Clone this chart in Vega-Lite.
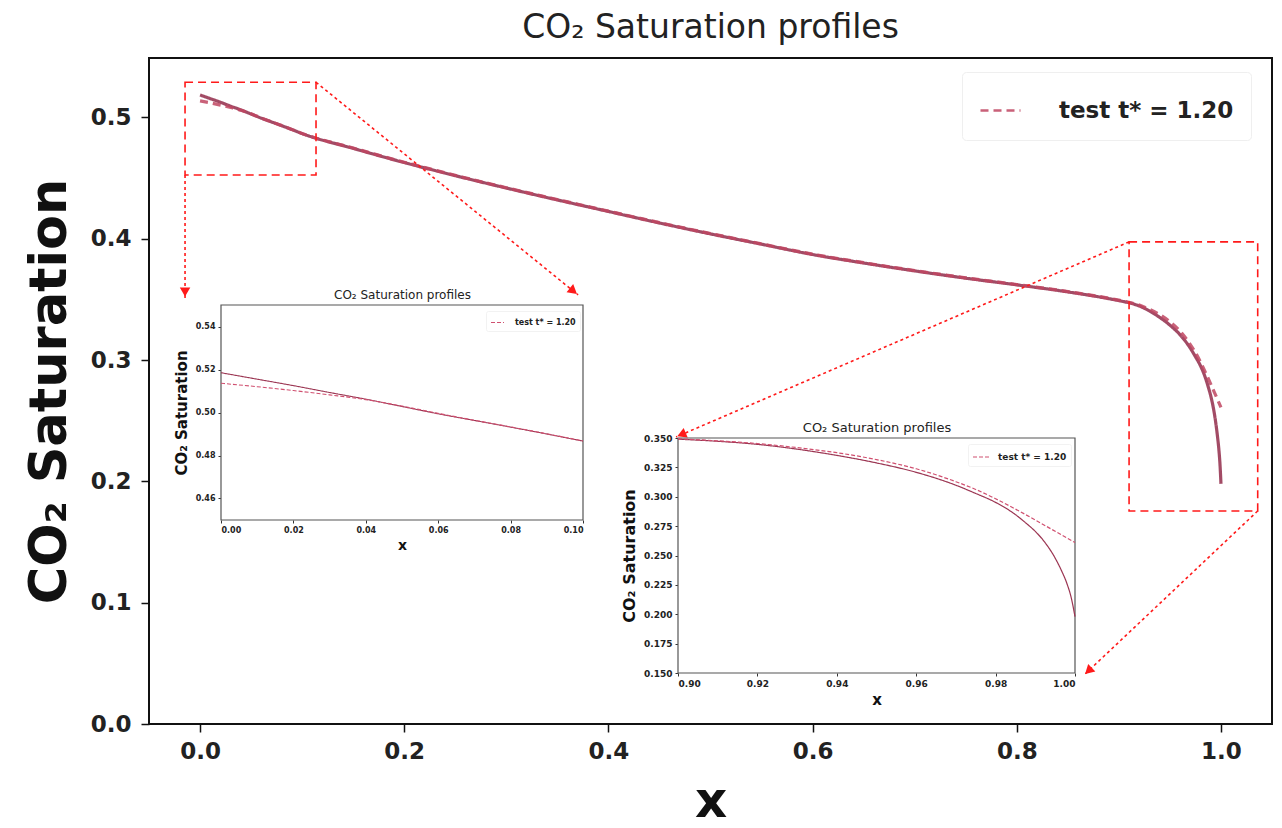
{
  "$schema": "https://vega.github.io/schema/vega-lite/v6.json",
  "width": 1123,
  "height": 666,
  "autosize": {"type": "none"},
  "padding": {"left": 149, "top": 58, "right": 10, "bottom": 104},
  "background": "white",
  "config": {
    "font": "DejaVu Sans",
    "view": {"stroke": "#111", "strokeWidth": 2},
    "axis": {"grid": false}
  },
  "title": {
    "text": "CO₂ Saturation profiles",
    "fontSize": 33,
    "fontWeight": "normal",
    "color": "#222",
    "anchor": "middle",
    "frame": "group",
    "baseline": "alphabetic",
    "offset": -13
  },
  "datasets": {
    "profiles": [
      {"x": 0, "s": 0.5185, "series": "reference"},
      {"x": 0.01, "s": 0.5155, "series": "reference"},
      {"x": 0.02, "s": 0.5125, "series": "reference"},
      {"x": 0.03, "s": 0.5093, "series": "reference"},
      {"x": 0.04, "s": 0.5062, "series": "reference"},
      {"x": 0.05, "s": 0.5028, "series": "reference"},
      {"x": 0.06, "s": 0.4994, "series": "reference"},
      {"x": 0.07, "s": 0.4963, "series": "reference"},
      {"x": 0.08, "s": 0.4932, "series": "reference"},
      {"x": 0.09, "s": 0.49, "series": "reference"},
      {"x": 0.1, "s": 0.4867, "series": "reference"},
      {"x": 0.15, "s": 0.4745, "series": "reference"},
      {"x": 0.2, "s": 0.4628, "series": "reference"},
      {"x": 0.25, "s": 0.452, "series": "reference"},
      {"x": 0.3, "s": 0.4418, "series": "reference"},
      {"x": 0.35, "s": 0.432, "series": "reference"},
      {"x": 0.4, "s": 0.4225, "series": "reference"},
      {"x": 0.45, "s": 0.413, "series": "reference"},
      {"x": 0.5, "s": 0.404, "series": "reference"},
      {"x": 0.55, "s": 0.3955, "series": "reference"},
      {"x": 0.6, "s": 0.387, "series": "reference"},
      {"x": 0.65, "s": 0.38, "series": "reference"},
      {"x": 0.7, "s": 0.3735, "series": "reference"},
      {"x": 0.75, "s": 0.3675, "series": "reference"},
      {"x": 0.8, "s": 0.362, "series": "reference"},
      {"x": 0.85, "s": 0.3562, "series": "reference"},
      {"x": 0.9, "s": 0.349, "series": "reference"},
      {"x": 0.91, "s": 0.3472, "series": "reference"},
      {"x": 0.92, "s": 0.3446, "series": "reference"},
      {"x": 0.93, "s": 0.3405, "series": "reference"},
      {"x": 0.94, "s": 0.3352, "series": "reference"},
      {"x": 0.95, "s": 0.3288, "series": "reference"},
      {"x": 0.96, "s": 0.3208, "series": "reference"},
      {"x": 0.97, "s": 0.3098, "series": "reference"},
      {"x": 0.975, "s": 0.3028, "series": "reference"},
      {"x": 0.98, "s": 0.2952, "series": "reference"},
      {"x": 0.985, "s": 0.2848, "series": "reference"},
      {"x": 0.9875, "s": 0.278, "series": "reference"},
      {"x": 0.99, "s": 0.2705, "series": "reference"},
      {"x": 0.9925, "s": 0.2608, "series": "reference"},
      {"x": 0.995, "s": 0.2478, "series": "reference"},
      {"x": 0.9965, "s": 0.2378, "series": "reference"},
      {"x": 0.998, "s": 0.2258, "series": "reference"},
      {"x": 0.999, "s": 0.2148, "series": "reference"},
      {"x": 1, "s": 0.198, "series": "reference"},
      {"x": 0, "s": 0.5136, "series": "test t* = 1.20"},
      {"x": 0.01, "s": 0.512, "series": "test t* = 1.20"},
      {"x": 0.02, "s": 0.5102, "series": "test t* = 1.20"},
      {"x": 0.03, "s": 0.5082, "series": "test t* = 1.20"},
      {"x": 0.04, "s": 0.506, "series": "test t* = 1.20"},
      {"x": 0.05, "s": 0.503, "series": "test t* = 1.20"},
      {"x": 0.06, "s": 0.4996, "series": "test t* = 1.20"},
      {"x": 0.07, "s": 0.4964, "series": "test t* = 1.20"},
      {"x": 0.08, "s": 0.4933, "series": "test t* = 1.20"},
      {"x": 0.09, "s": 0.4901, "series": "test t* = 1.20"},
      {"x": 0.1, "s": 0.4868, "series": "test t* = 1.20"},
      {"x": 0.15, "s": 0.4748, "series": "test t* = 1.20"},
      {"x": 0.2, "s": 0.4631, "series": "test t* = 1.20"},
      {"x": 0.25, "s": 0.4523, "series": "test t* = 1.20"},
      {"x": 0.3, "s": 0.4421, "series": "test t* = 1.20"},
      {"x": 0.35, "s": 0.4323, "series": "test t* = 1.20"},
      {"x": 0.4, "s": 0.4228, "series": "test t* = 1.20"},
      {"x": 0.45, "s": 0.4133, "series": "test t* = 1.20"},
      {"x": 0.5, "s": 0.4043, "series": "test t* = 1.20"},
      {"x": 0.55, "s": 0.3958, "series": "test t* = 1.20"},
      {"x": 0.6, "s": 0.3873, "series": "test t* = 1.20"},
      {"x": 0.65, "s": 0.3803, "series": "test t* = 1.20"},
      {"x": 0.7, "s": 0.3738, "series": "test t* = 1.20"},
      {"x": 0.75, "s": 0.3678, "series": "test t* = 1.20"},
      {"x": 0.8, "s": 0.3623, "series": "test t* = 1.20"},
      {"x": 0.85, "s": 0.3565, "series": "test t* = 1.20"},
      {"x": 0.9, "s": 0.3494, "series": "test t* = 1.20"},
      {"x": 0.91, "s": 0.3476, "series": "test t* = 1.20"},
      {"x": 0.92, "s": 0.3453, "series": "test t* = 1.20"},
      {"x": 0.93, "s": 0.3418, "series": "test t* = 1.20"},
      {"x": 0.94, "s": 0.3375, "series": "test t* = 1.20"},
      {"x": 0.95, "s": 0.3316, "series": "test t* = 1.20"},
      {"x": 0.96, "s": 0.3238, "series": "test t* = 1.20"},
      {"x": 0.97, "s": 0.3128, "series": "test t* = 1.20"},
      {"x": 0.975, "s": 0.3062, "series": "test t* = 1.20"},
      {"x": 0.98, "s": 0.2983, "series": "test t* = 1.20"},
      {"x": 0.985, "s": 0.2895, "series": "test t* = 1.20"},
      {"x": 0.99, "s": 0.2802, "series": "test t* = 1.20"},
      {"x": 0.995, "s": 0.2706, "series": "test t* = 1.20"},
      {"x": 1, "s": 0.261, "series": "test t* = 1.20"}
    ],
    "boxes": [
      {"box": 1, "x0": -0.0147, "x1": 0.1136, "y0": 0.4526, "y1": 0.529},
      {"box": 2, "x0": 0.91, "x1": 1.036, "y0": 0.1756, "y1": 0.3974}
    ],
    "arrows": [
      {"arrow": 1, "x0": -0.0147, "y0": 0.4526, "x1": -0.0147, "y1": 0.3495, "hx": -0.0147, "hy": 0.3561},
      {"arrow": 2, "x0": 0.1136, "y0": 0.529, "x1": 0.3703, "y1": 0.3537, "hx": 0.3657, "hy": 0.3569},
      {"arrow": 3, "x0": 0.91, "y0": 0.3974, "x1": 0.4663, "y1": 0.2366, "hx": 0.4716, "hy": 0.2386},
      {"arrow": 4, "x0": 1.036, "y0": 0.1756, "x1": 0.8659, "y1": 0.0404, "hx": 0.8702, "hy": 0.0438}
    ],
    "frame1": [{"x0": 0, "x1": 0.1, "y0": 0.45, "y1": 0.55}],
    "frame2": [{"x0": 0.9, "x1": 1.0, "y0": 0.15, "y1": 0.35}]
  },
  "layer": [
    {
      "layer": [
        {
          "data": {"name": "profiles"},
          "mark": {"type": "line", "strokeWidth": 3.2, "opacity": 0.85, "interpolate": "monotone"},
          "encoding": {
            "x": {
              "field": "x", "type": "quantitative", "title": "x",
              "scale": {"domain": [-0.05, 1.05], "nice": false, "zero": false},
              "axis": {
                "orient": "bottom", "values": [0, 0.2, 0.4, 0.6, 0.8, 1.0], "format": ".1f",
                "domain": false, "tickSize": 8, "tickWidth": 1.5, "tickColor": "#111",
                "labelFontSize": 23, "labelFontWeight": "bold", "labelColor": "#222", "labelPadding": 8,
                "titleFontSize": 50, "titleFontWeight": "bold", "titleColor": "#111", "titlePadding": 13
              }
            },
            "y": {
              "field": "s", "type": "quantitative", "title": "CO₂ Saturation",
              "scale": {"domain": [0, 0.549], "nice": false, "zero": false},
              "axis": {
                "orient": "left", "values": [0, 0.1, 0.2, 0.3, 0.4, 0.5], "format": ".1f",
                "domain": false, "tickSize": 8, "tickWidth": 1.5, "tickColor": "#111",
                "labelFontSize": 23, "labelFontWeight": "bold", "labelColor": "#222", "labelPadding": 10,
                "titleFontSize": 51, "titleFontWeight": "bold", "titleColor": "#111", "titlePadding": 14
              }
            },
            "color": {
              "field": "series", "type": "nominal",
              "scale": {"domain": ["reference", "test t* = 1.20"], "range": ["#922c4a", "#c04662"]},
              "legend": {
                "title": null, "values": ["test t* = 1.20"], "orient": "none", "legendX": 813, "legendY": 14,
                "padding": 17, "symbolType": "stroke", "symbolSize": 1600, "symbolStrokeWidth": 2.5,
                "labelFontSize": 23, "labelFontWeight": "bold", "labelColor": "#222", "labelOffset": 37,
                "labelLimit": 400, "fillColor": "white", "strokeColor": "#efefef", "cornerRadius": 4
              }
            },
            "strokeDash": {
              "field": "series", "type": "nominal",
              "scale": {"domain": ["reference", "test t* = 1.20"], "range": [[1, 0], [8, 5]]},
              "legend": {
                "title": null, "values": ["test t* = 1.20"], "orient": "none", "legendX": 813, "legendY": 14,
                "padding": 17, "symbolType": "stroke", "symbolSize": 1600, "symbolStrokeWidth": 2.5,
                "labelFontSize": 23, "labelFontWeight": "bold", "labelColor": "#222", "labelOffset": 37,
                "labelLimit": 400, "fillColor": "white", "strokeColor": "#efefef", "cornerRadius": 4
              }
            }
          }
        },
        {
          "data": {"name": "boxes"},
          "mark": {"type": "rect", "fill": null, "fillOpacity": 0, "stroke": "#ff1a1a", "strokeWidth": 1.6, "strokeDash": [8, 5]},
          "encoding": {
            "x": {"field": "x0", "type": "quantitative", "title": "x", "scale": {"domain": [-0.05, 1.05], "nice": false, "zero": false}},
            "x2": {"field": "x1"},
            "y": {"field": "y0", "type": "quantitative", "title": "CO₂ Saturation", "scale": {"domain": [0, 0.549], "nice": false, "zero": false}},
            "y2": {"field": "y1"}
          }
        },
        {
          "data": {"name": "arrows"},
          "mark": {"type": "rule", "stroke": "#ff1a1a", "strokeWidth": 1.6, "strokeDash": [3, 3]},
          "encoding": {
            "x": {"field": "x0", "type": "quantitative", "title": "x", "scale": {"domain": [-0.05, 1.05], "nice": false, "zero": false}},
            "x2": {"field": "x1"},
            "y": {"field": "y0", "type": "quantitative", "title": "CO₂ Saturation", "scale": {"domain": [0, 0.549], "nice": false, "zero": false}},
            "y2": {"field": "y1"}
          }
        },
        {
          "data": {"name": "arrows"},
          "transform": [{"filter": "datum.arrow == 1"}],
          "mark": {"type": "point", "shape": "triangle-up", "filled": true, "color": "#ff1a1a", "opacity": 1, "size": 110, "angle": 180},
          "encoding": {
            "x": {"field": "hx", "type": "quantitative", "title": "x", "scale": {"domain": [-0.05, 1.05], "nice": false, "zero": false}},
            "y": {"field": "hy", "type": "quantitative", "title": "CO₂ Saturation", "scale": {"domain": [0, 0.549], "nice": false, "zero": false}}
          }
        },
        {
          "data": {"name": "arrows"},
          "transform": [{"filter": "datum.arrow == 2"}],
          "mark": {"type": "point", "shape": "triangle-up", "filled": true, "color": "#ff1a1a", "opacity": 1, "size": 110, "angle": 129},
          "encoding": {
            "x": {"field": "hx", "type": "quantitative", "title": "x", "scale": {"domain": [-0.05, 1.05], "nice": false, "zero": false}},
            "y": {"field": "hy", "type": "quantitative", "title": "CO₂ Saturation", "scale": {"domain": [0, 0.549], "nice": false, "zero": false}}
          }
        },
        {
          "data": {"name": "arrows"},
          "transform": [{"filter": "datum.arrow == 3"}],
          "mark": {"type": "point", "shape": "triangle-up", "filled": true, "color": "#ff1a1a", "opacity": 1, "size": 110, "angle": 247},
          "encoding": {
            "x": {"field": "hx", "type": "quantitative", "title": "x", "scale": {"domain": [-0.05, 1.05], "nice": false, "zero": false}},
            "y": {"field": "hy", "type": "quantitative", "title": "CO₂ Saturation", "scale": {"domain": [0, 0.549], "nice": false, "zero": false}}
          }
        },
        {
          "data": {"name": "arrows"},
          "transform": [{"filter": "datum.arrow == 4"}],
          "mark": {"type": "point", "shape": "triangle-up", "filled": true, "color": "#ff1a1a", "opacity": 1, "size": 110, "angle": 227},
          "encoding": {
            "x": {"field": "hx", "type": "quantitative", "title": "x", "scale": {"domain": [-0.05, 1.05], "nice": false, "zero": false}},
            "y": {"field": "hy", "type": "quantitative", "title": "CO₂ Saturation", "scale": {"domain": [0, 0.549], "nice": false, "zero": false}}
          }
        }
      ]
    },
    {
      "layer": [
        {
          "data": {"name": "frame1"},
          "mark": {"type": "rect", "fill": "white", "stroke": "#555", "strokeWidth": 1.2},
          "encoding": {
            "x": {
              "field": "x0", "type": "quantitative", "title": "x",
              "scale": {"domain": [0, 0.1], "range": [72, 434], "nice": false, "zero": false},
              "axis": {
                "orient": "bottom", "offset": -204, "values": [0, 0.02, 0.04, 0.06, 0.08, 0.1], "format": ".2f",
                "domain": false, "tickSize": 3, "tickColor": "#333", "labelFontSize": 8, "labelFontWeight": "bold",
                "labelColor": "#222", "labelPadding": 3, "titleFontSize": 14, "titleFontWeight": "bold",
                "titleColor": "#111", "titlePadding": 4
              }
            },
            "x2": {"field": "x1"},
            "y": {
              "field": "y0", "type": "quantitative", "title": "CO₂ Saturation",
              "scale": {"domain": [0.45, 0.55], "range": [462, 247], "nice": false, "zero": false},
              "axis": {
                "orient": "left", "offset": -72, "values": [0.46, 0.48, 0.5, 0.52, 0.54], "format": ".2f",
                "domain": false, "tickSize": 3, "tickColor": "#333", "labelFontSize": 8, "labelFontWeight": "bold",
                "labelColor": "#222", "labelPadding": 3, "titleFontSize": 15, "titleFontWeight": "bold",
                "titleColor": "#111", "titlePadding": 6
              }
            },
            "y2": {"field": "y1"}
          }
        },
        {
          "data": {"name": "profiles"},
          "transform": [{"filter": "datum.x <= 0.1"}],
          "mark": {"type": "line", "strokeWidth": 1.1, "clip": true, "interpolate": "monotone"},
          "encoding": {
            "x": {
              "field": "x", "type": "quantitative", "title": "CO₂ Saturation profiles",
              "scale": {"domain": [0, 0.1], "range": [72, 434], "nice": false, "zero": false},
              "axis": {
                "orient": "top", "offset": -247, "domain": false, "ticks": false, "labels": false,
                "titleFontSize": 12, "titleFontWeight": "normal", "titleColor": "#222", "titlePadding": 4
              }
            },
            "y": {
              "field": "s", "type": "quantitative", "title": "CO₂ Saturation",
              "scale": {"domain": [0.45, 0.55], "range": [462, 247], "nice": false, "zero": false}
            },
            "color": {
              "field": "series", "type": "nominal",
              "scale": {"domain": ["reference", "test t* = 1.20"], "range": ["#9b3552", "#d05070"]},
              "legend": {
                "title": null, "values": ["test t* = 1.20"], "orient": "none", "legendX": 337, "legendY": 253,
                "padding": 4, "symbolType": "stroke", "symbolSize": 169, "symbolStrokeWidth": 1.1,
                "labelFontSize": 8, "labelFontWeight": "bold", "labelColor": "#222", "labelOffset": 10,
                "fillColor": "white", "strokeColor": "#f2f2f2", "cornerRadius": 2
              }
            },
            "strokeDash": {
              "field": "series", "type": "nominal",
              "scale": {"domain": ["reference", "test t* = 1.20"], "range": [[1, 0], [4, 2]]},
              "legend": {
                "title": null, "values": ["test t* = 1.20"], "orient": "none", "legendX": 337, "legendY": 253,
                "padding": 4, "symbolType": "stroke", "symbolSize": 169, "symbolStrokeWidth": 1.1,
                "labelFontSize": 8, "labelFontWeight": "bold", "labelColor": "#222", "labelOffset": 10,
                "fillColor": "white", "strokeColor": "#f2f2f2", "cornerRadius": 2
              }
            }
          }
        }
      ],
      "resolve": {"axis": {"x": "independent"}}
    },
    {
      "layer": [
        {
          "data": {"name": "frame2"},
          "mark": {"type": "rect", "fill": "white", "stroke": "#555", "strokeWidth": 1.2},
          "encoding": {
            "x": {
              "field": "x0", "type": "quantitative", "title": "x",
              "scale": {"domain": [0.9, 1.0], "range": [529, 926], "nice": false, "zero": false},
              "axis": {
                "orient": "bottom", "offset": -51, "values": [0.9, 0.92, 0.94, 0.96, 0.98, 1.0], "format": ".2f",
                "domain": false, "tickSize": 3, "tickColor": "#333", "labelFontSize": 9, "labelFontWeight": "bold",
                "labelColor": "#222", "labelPadding": 3, "titleFontSize": 15, "titleFontWeight": "bold",
                "titleColor": "#111", "titlePadding": 4
              }
            },
            "x2": {"field": "x1"},
            "y": {
              "field": "y0", "type": "quantitative", "title": "CO₂ Saturation",
              "scale": {"domain": [0.15, 0.35], "range": [615, 380], "nice": false, "zero": false},
              "axis": {
                "orient": "left", "offset": -529,
                "values": [0.15, 0.175, 0.2, 0.225, 0.25, 0.275, 0.3, 0.325, 0.35], "format": ".3f",
                "domain": false, "tickSize": 3, "tickColor": "#333", "labelFontSize": 9, "labelFontWeight": "bold",
                "labelColor": "#222", "labelPadding": 3, "titleFontSize": 16, "titleFontWeight": "bold",
                "titleColor": "#111", "titlePadding": 6
              }
            },
            "y2": {"field": "y1"}
          }
        },
        {
          "data": {"name": "profiles"},
          "transform": [{"filter": "datum.x >= 0.9"}],
          "mark": {"type": "line", "strokeWidth": 1.2, "clip": true, "interpolate": "monotone"},
          "encoding": {
            "x": {
              "field": "x", "type": "quantitative", "title": "CO₂ Saturation profiles",
              "scale": {"domain": [0.9, 1.0], "range": [529, 926], "nice": false, "zero": false},
              "axis": {
                "orient": "top", "offset": -380, "domain": false, "ticks": false, "labels": false,
                "titleFontSize": 13, "titleFontWeight": "normal", "titleColor": "#222", "titlePadding": 4
              }
            },
            "y": {
              "field": "s", "type": "quantitative", "title": "CO₂ Saturation",
              "scale": {"domain": [0.15, 0.35], "range": [615, 380], "nice": false, "zero": false}
            },
            "color": {
              "field": "series", "type": "nominal",
              "scale": {"domain": ["reference", "test t* = 1.20"], "range": ["#9b3552", "#d05070"]},
              "legend": {
                "title": null, "values": ["test t* = 1.20"], "orient": "none", "legendX": 819, "legendY": 386,
                "padding": 4, "symbolType": "stroke", "symbolSize": 256, "symbolStrokeWidth": 1.2,
                "labelFontSize": 9, "labelFontWeight": "bold", "labelColor": "#222", "labelOffset": 8,
                "fillColor": "white", "strokeColor": "#f2f2f2", "cornerRadius": 2
              }
            },
            "strokeDash": {
              "field": "series", "type": "nominal",
              "scale": {"domain": ["reference", "test t* = 1.20"], "range": [[1, 0], [4, 2]]},
              "legend": {
                "title": null, "values": ["test t* = 1.20"], "orient": "none", "legendX": 819, "legendY": 386,
                "padding": 4, "symbolType": "stroke", "symbolSize": 256, "symbolStrokeWidth": 1.2,
                "labelFontSize": 9, "labelFontWeight": "bold", "labelColor": "#222", "labelOffset": 8,
                "fillColor": "white", "strokeColor": "#f2f2f2", "cornerRadius": 2
              }
            }
          }
        }
      ],
      "resolve": {"axis": {"x": "independent"}}
    }
  ],
  "resolve": {
    "scale": {"x": "independent", "y": "independent", "color": "independent", "strokeDash": "independent"},
    "axis": {"x": "independent", "y": "independent"},
    "legend": {"color": "independent", "strokeDash": "independent"}
  }
}
